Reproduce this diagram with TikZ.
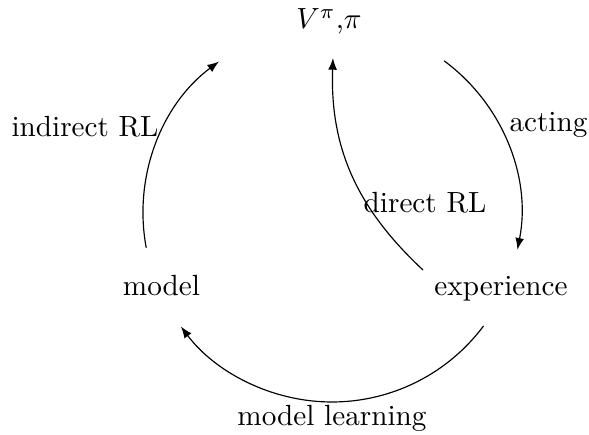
\documentclass[tikz,border=0pt]{standalone}
\usetikzlibrary{arrows.meta}
\begin{document}
\begin{tikzpicture}[x=0.3425pt,y=0.3425pt,
  lbl/.style={inner sep=0pt,anchor=base},
  arr/.style={-{Latex[length=4pt,width=3pt]},line width=0.4pt}]
\useasboundingbox (0,0) rectangle (589,435);
% main nodes
\node[lbl] (v) at (329,406) {$V^{\pi}$,$\pi$};
\node[lbl] (model) at (161.5,139) {model};
\node[lbl] (exp) at (501,139) {experience};
% edge labels
\node[lbl] (lind) at (85,298) {indirect RL};
\node[lbl] (lact) at (548.5,303) {acting};
\node[lbl] (ldir) at (425,222) {direct RL};
\node[lbl] (llearn) at (332,9) {model learning};
% circle centre and arrow ends
\coordinate (c) at (332,222);
\coordinate (a1) at ([shift={(190.6:189)}]c);
\coordinate (a3) at ([shift={(53.6:189)}]c);
\coordinate (a4) at ([shift={(-36.7:189)}]c);
\coordinate (a2) at (423,165);
\coordinate (b2) at (333,377);
% arrows
\draw[arr] (a1) arc[start angle=190.6,end angle=126.7,radius=189];
\draw[arr] (a2) to[out=137,in=268] (b2);
\draw[arr] (a3) arc[start angle=53.6,end angle=-11.2,radius=189];
\draw[arr] (a4) arc[start angle=-36.7,end angle=-143.1,radius=189];
\end{tikzpicture}
\end{document}
